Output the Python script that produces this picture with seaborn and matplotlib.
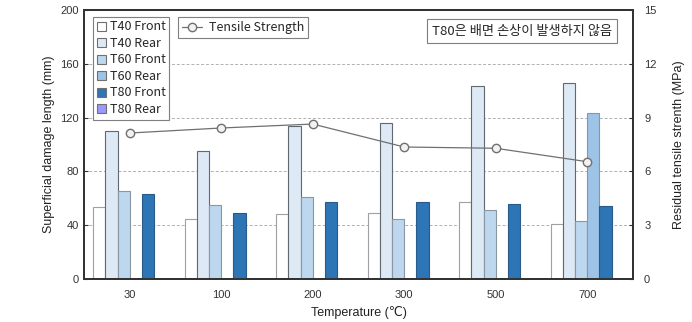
import numpy as np
import pandas as pd
import matplotlib
matplotlib.use("Agg")
import matplotlib.pyplot as plt
import matplotlib.patches as mpatches
from matplotlib.lines import Line2D
import seaborn as sns

# data
temperatures = ["30", "100", "200", "300", "500", "700"]
series = ["T40 Front", "T40 Rear", "T60 Front", "T60 Rear", "T80 Front", "T80 Rear"]
t40_front = [53.5, 44.6, 48.3, 49.2, 57.2, 40.8]
t40_rear = [110, 95.5, 114, 116.3, 143.3, 146]
t60_front = [65.3, 55, 61, 44.8, 51.5, 43]
t60_rear = [np.nan, np.nan, np.nan, np.nan, np.nan, 123.7]
t80_front = [63.4, 49.2, 57.2, 57.6, 56, 54]
t80_rear = [np.nan] * 6
tensile = [8.14, 8.42, 8.64, 7.36, 7.29, 6.54]

colors = ["#ffffff", "#dde9f5", "#bdd7ee", "#9dc3e6", "#2e75b6", "#9999ff"]
edges = ["#a0a0a0", "#606870", "#8a96a2", "#8a96a2", "#2a5a8a", "#606870"]

rows = []
for name, vals in zip(series, [t40_front, t40_rear, t60_front, t60_rear, t80_front, t80_rear]):
    for t, v in zip(temperatures, vals):
        rows.append({"Temperature": t, "Series": name, "Length": v})
df = pd.DataFrame(rows)

sns.set_style("white")
plt.rcParams["font.family"] = ["Liberation Sans", "DejaVu Sans"]
kr = ["Noto Sans CJK KR", "DejaVu Sans"]

fig = plt.figure(figsize=(6.92, 3.22), dpi=100)
ax = fig.add_axes([0.1214, 0.1335, 0.7933, 0.8355])

sns.barplot(data=df, x="Temperature", y="Length", hue="Series",
            order=temperatures, hue_order=series, palette=colors, saturation=1,
            edgecolor="#7f7f7f", linewidth=0.8, errorbar=None,
            width=0.8, legend=False, ax=ax)
# edge colour per series
for container, ec in zip(ax.containers, edges):
    for bar in container:
        bar.set_edgecolor(ec)

ax.set_xlim(-0.5, 5.5)
ax.set_ylim(0, 200)
ax.set_yticks([0, 40, 80, 120, 160, 200])
ax.yaxis.grid(True, linestyle=(0, (3, 2)), color="#b0b0b0", linewidth=0.7)
ax.set_axisbelow(True)
ax.set_xlabel("Temperature (\u2103)", fontsize=9, color="#222222")
ax.set_ylabel("Superficial damage length (mm)", fontsize=9, color="#222222")
ax.tick_params(axis="y", direction="in", length=3, labelsize=8, colors="#333333")
ax.tick_params(axis="x", length=0, labelsize=8, colors="#333333", pad=8)
for s in ax.spines.values():
    s.set_color("#333333")
    s.set_linewidth(1.4)

ax2 = ax.twinx()
ax2.plot(range(len(temperatures)), tensile, color="#707070", linewidth=0.9,
         marker="o", markersize=6, markerfacecolor="#f2f2f2", markeredgecolor="#707070")
ax2.set_ylim(0, 15)
ax2.set_yticks([0, 3, 6, 9, 12, 15])
ax2.set_ylabel("Residual tensile strenth (MPa)", fontsize=9, color="#222222", labelpad=12)
ax2.tick_params(axis="y", direction="in", length=3, labelsize=8, colors="#333333", pad=8)
for s in ax2.spines.values():
    s.set_color("#333333")
    s.set_linewidth(1.4)

handles = [mpatches.Patch(facecolor=c, edgecolor="#707070", linewidth=0.8) for c in colors]
leg1 = ax2.legend(handles, series, loc="upper left", bbox_to_anchor=(0.017, 0.975),
                  frameon=True, fancybox=False, framealpha=1,
                  edgecolor="#7f7f7f", handlelength=0.75, handleheight=0.75,
                  handletextpad=0.25, labelspacing=0.28, borderpad=0.3, borderaxespad=0,
                  prop={"family": kr, "size": 9})
leg1.get_frame().set_linewidth(0.8)
ax2.add_artist(leg1)

line_handle = Line2D([], [], color="#707070", linewidth=0.9, marker="o", markersize=6,
                     markerfacecolor="#f2f2f2", markeredgecolor="#707070")
leg2 = ax2.legend([line_handle], ["Tensile Strength"], loc="upper left",
                  bbox_to_anchor=(0.171, 0.975), fancybox=False, framealpha=1,
                  edgecolor="#7f7f7f", handlelength=1.6, handletextpad=0.5,
                  borderpad=0.35, borderaxespad=0,
                  prop={"family": kr, "size": 9})
leg2.get_frame().set_linewidth(0.8)

ax2.text(0.962, 0.946, "T80은 배면 손상이 발생하지 않음", transform=ax2.transAxes,
         ha="right", va="top", fontsize=9.5, family=kr,
         bbox=dict(boxstyle="square,pad=0.4", facecolor="white", edgecolor="#7f7f7f",
                   linewidth=0.8))

fig.savefig("out.png", dpi=100)
